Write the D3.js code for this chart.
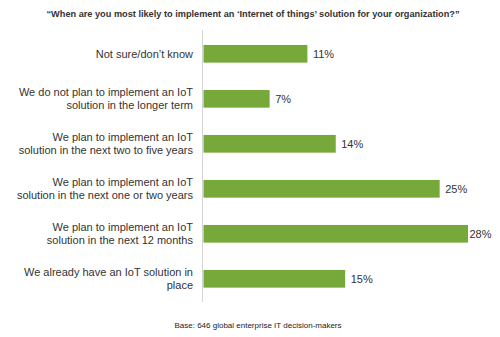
<!DOCTYPE html>
<html>
<head>
<meta charset="utf-8">
<script src="https://cdn.jsdelivr.net/npm/d3@7"></script>
<style>
  html, body { margin: 0; padding: 0; background: #fff; }
  svg { display: block; }
</style>
</head>
<body>
<svg id="chart" width="500" height="337"></svg>
<script>
// Survey answers, top to bottom
const categories = [
  ["Not sure/don\u2019t know"],
  ["We do not plan to implement an IoT", "solution in the longer term"],
  ["We plan to implement an IoT", "solution in the next two to five years"],
  ["We plan to implement an IoT", "solution in the next one or two years"],
  ["We plan to implement an IoT", "solution in the next 12 months"],
  ["We already have an IoT solution in", "place"]
];
const values = [11, 7, 14, 25, 28, 15];
const valueLabels = ["11%", "7%", "14%", "25%", "28%", "15%"];

const titleText = "\u201cWhen are you most likely to implement an \u2018Internet of things\u2019 solution for your organization?\u201d";
const baseText = "Base: 646 global enterprise IT decision-makers";

const svg = d3.select("#chart");
const left = 203.5;

const x = d3.scaleLinear().domain([0, 28]).range([left, 468]);
const y = d3.scaleBand()
  .domain(d3.range(categories.length))
  .range([31.3, 301.3])
  .paddingInner(0.607)
  .paddingOuter(0.3035);

// Title
svg.append("text")
  .attr("x", 253)
  .attr("y", 17)
  .attr("text-anchor", "middle")
  .attr("font-family", "Liberation Sans, Arial, sans-serif")
  .attr("font-weight", "bold")
  .attr("font-size", 9.2)
  .attr("fill", "#333")
  .text(titleText);

// Bars
svg.append("g").selectAll("rect")
  .data(values)
  .join("rect")
  .attr("x", x(0))
  .attr("y", (d, i) => y(i))
  .attr("width", d => x(d) - x(0))
  .attr("height", y.bandwidth())
  .attr("fill", "#76a83a");

// Vertical axis line
svg.append("line")
  .attr("x1", 202.5).attr("x2", 202.5)
  .attr("y1", 30).attr("y2", 302)
  .attr("stroke", "#d4d4d4")
  .attr("stroke-width", 1);

// Category labels (right-aligned, wrapped)
const labelG = svg.append("g")
  .attr("font-family", "Liberation Sans, Arial, sans-serif")
  .attr("font-size", 11)
  .attr("fill", "#333")
  .attr("text-anchor", "end");

categories.forEach((lines, i) => {
  const cy = y(i) + y.bandwidth() / 2;
  const lh = 12.5;
  const y0 = cy - (lines.length - 1) * lh / 2;
  const t = labelG.append("text").attr("x", 193);
  lines.forEach((ln, j) => {
    t.append("tspan")
      .attr("x", 193)
      .attr("y", y0 + j * lh)
      .attr("dy", "0.35em")
      .text(ln);
  });
});

// Value labels
svg.append("g")
  .attr("font-family", "Liberation Sans, Arial, sans-serif")
  .attr("font-size", 11)
  .attr("fill", "#333")
  .selectAll("text")
  .data(values)
  .join("text")
  .attr("x", (d, i) => x(d) + (i === 4 ? 1.5 : 5.5))
  .attr("y", (d, i) => y(i) + y.bandwidth() / 2)
  .attr("dy", "0.35em")
  .text((d, i) => valueLabels[i]);

// Base note
svg.append("text")
  .attr("x", 258)
  .attr("y", 328)
  .attr("text-anchor", "middle")
  .attr("font-family", "Liberation Sans, Arial, sans-serif")
  .attr("font-size", 8)
  .attr("fill", "#222")
  .text(baseText);
</script>
</body>
</html>
